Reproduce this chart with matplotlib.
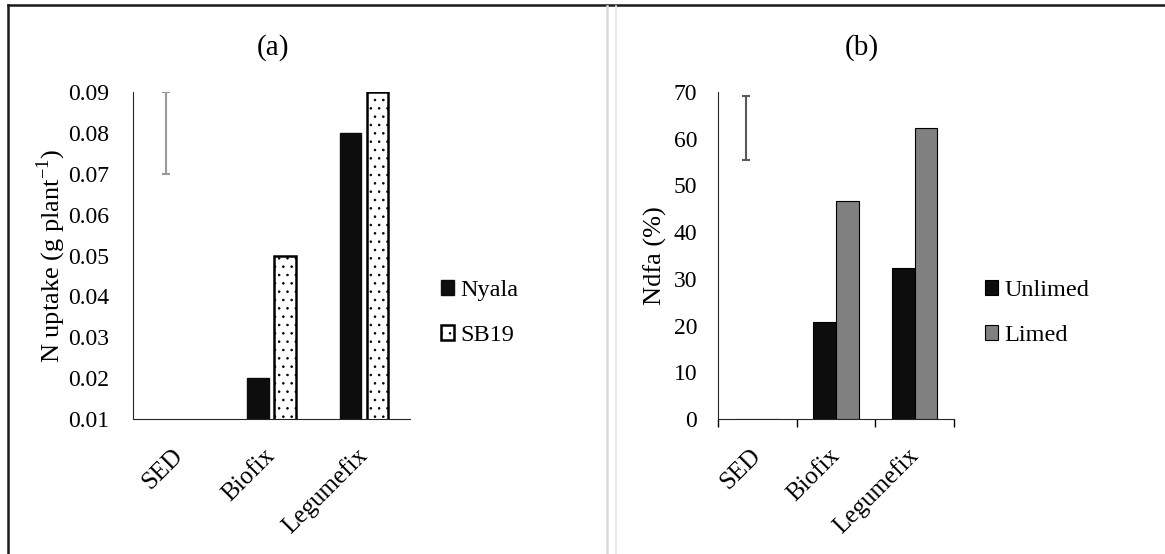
import numpy as np
import matplotlib
matplotlib.use("Agg")
import matplotlib.pyplot as plt
from matplotlib.lines import Line2D

plt.rcParams["font.family"] = ["Liberation Serif", "DejaVu Serif"]
plt.rcParams["mathtext.fontset"] = "custom"
plt.rcParams["mathtext.rm"] = "Liberation Serif"
plt.rcParams["hatch.linewidth"] = 0.6

categories = ["SED", "Biofix", "Legumefix"]

# panel (a): N uptake
nyala = [0.0, 0.02, 0.08]
sb19 = [0.0, 0.05, 0.09]
sed_a = 0.08
sed_a_err = 0.01

# panel (b): Ndfa
unlimed = [0.0, 20.7, 32.3]
limed = [0.0, 46.7, 62.3]
sed_b = 62.3
sed_b_err = 6.9

W, H = 1165, 554
fig = plt.figure(figsize=(W / 100, H / 100), dpi=100)

ax1 = fig.add_axes([133 / W, 1 - 419 / H, 277 / W, 327 / H])
ax2 = fig.add_axes([718 / W, 1 - 419 / H, 236 / W, 327 / H])

x = np.arange(len(categories))

# (a)
bw = 0.23
off = 0.147
ax1.bar(x - off, nyala, bw, color="#0d0d0d", edgecolor="#0d0d0d", label="Nyala")
ax1.bar(x + off, sb19, bw, color="white", edgecolor="black", linewidth=1.8,
        hatch="..", label="SB19")
ax1.errorbar(x[0] - off, sed_a, yerr=sed_a_err, color="#999999", capsize=3,
             elinewidth=1.5, capthick=1.5)
ax1.set_ylim(0.01, 0.09)
ax1.set_yticks(np.arange(0.01, 0.0901, 0.01))
ax1.set_yticklabels([f"{v:.2f}" for v in np.arange(0.01, 0.0901, 0.01)])
ax1.set_ylabel(r"N uptake (g plant$^{\mathregular{-1}}$)", fontsize=19)
ax1.yaxis.set_label_coords(-0.234, 0.5)
ax1.tick_params(axis="y", length=0, pad=17, labelsize=17)

# (b)
bw2 = 0.29
off2 = 0.145
ax2.bar(x - off2, unlimed, bw2, color="#0d0d0d", edgecolor="black", linewidth=0.8,
        label="Unlimed")
ax2.bar(x + off2, limed, bw2, color="#808080", edgecolor="black", linewidth=0.8,
        label="Limed")
ax2.errorbar(x[0] - off2, sed_b, yerr=sed_b_err, color="#595959", capsize=3,
             elinewidth=1.5, capthick=1.5)
ax2.set_ylim(0, 70)
ax2.set_yticks(range(0, 71, 10))
ax2.set_ylabel("Ndfa (%)", fontsize=19)
ax2.yaxis.set_label_coords(-0.216, 0.5)
ax2.set_xticks([-0.5, 0.5, 1.5, 2.5], minor=True)
ax2.tick_params(axis="x", which="minor", length=6, width=1, direction="out")
ax2.tick_params(axis="y", length=0, pad=15, labelsize=17)

for ax in (ax1, ax2):
    ax.set_xlim(-0.5, 2.5)
    ax.set_xticks(x)
    ax.set_xticklabels(categories, rotation=45, ha="right", va="center",
                       rotation_mode="anchor")
    ax.tick_params(axis="x", which="major", length=0, pad=24, labelsize=18)
    ax.spines["top"].set_visible(False)
    ax.spines["right"].set_visible(False)
    ax.spines["left"].set_color("#262626")
    ax.spines["bottom"].set_color("#262626")

fig.text(273 / W, 1 - 48 / H, "(a)", fontsize=21, ha="center", va="center")
fig.text(862 / W, 1 - 48 / H, "(b)", fontsize=21, ha="center", va="center")

leg_kw = dict(loc="upper left", frameon=False, fontsize=17.5, borderpad=0,
              borderaxespad=0, handlelength=0.55, handleheight=0.55,
              handletextpad=0.25, labelspacing=1.0)
ax1.legend(bbox_to_anchor=(441 / W, 1 - 280 / H), bbox_transform=fig.transFigure,
           **leg_kw)
ax2.legend(bbox_to_anchor=(985 / W, 1 - 280 / H), bbox_transform=fig.transFigure,
           **leg_kw)

# frame lines
fig.add_artist(Line2D([8 / W, 1], [1 - 5 / H, 1 - 5 / H], color="#1a1a1a", lw=1.8))
fig.add_artist(Line2D([8 / W, 8 / W], [0, 1 - 5 / H], color="#1a1a1a", lw=1.8))
fig.add_artist(Line2D([607 / W, 607 / W], [0, 1 - 6 / H], color="#d9d9d9", lw=1.8))
fig.add_artist(Line2D([616 / W, 616 / W], [0, 1 - 6 / H], color="#e6e6e6", lw=1.2))

fig.savefig("out.png", dpi=100)
